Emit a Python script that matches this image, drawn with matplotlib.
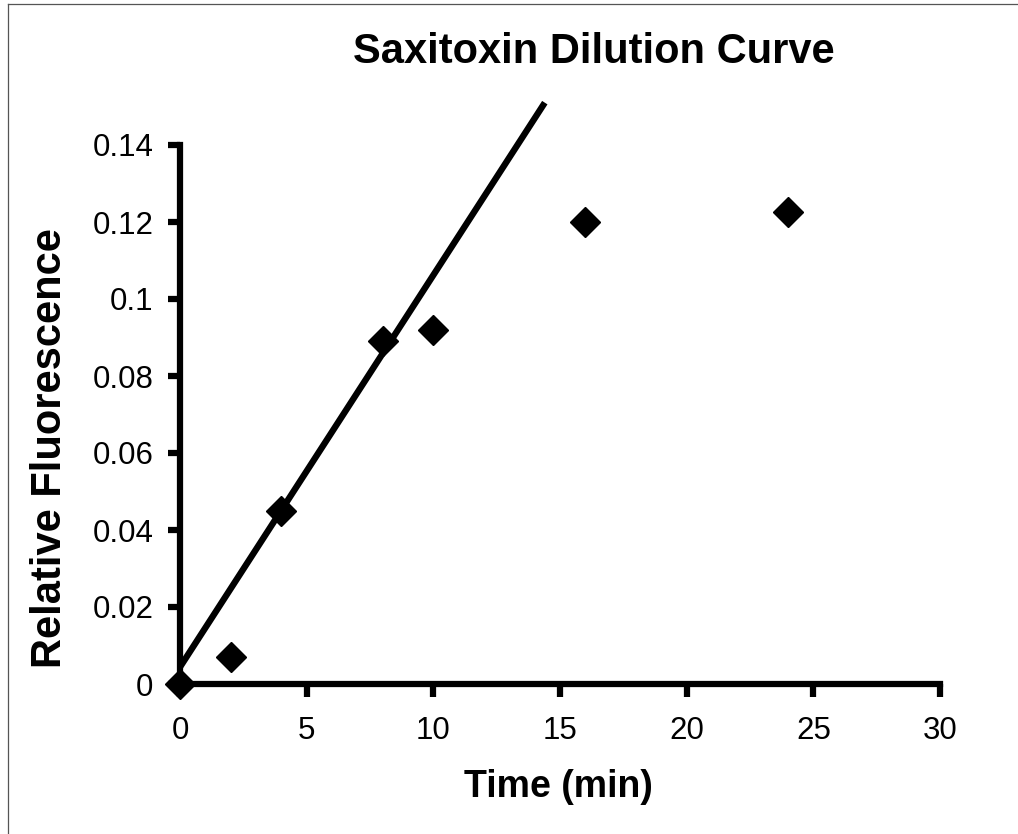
import matplotlib
matplotlib.use("Agg")
import matplotlib.pyplot as plt
from matplotlib.lines import Line2D

# Data
time_min = [0, 2, 4, 8, 10, 16, 24]
rel_fluor = [0.0, 0.007, 0.045, 0.089, 0.092, 0.120, 0.1225]
trend_x = [0.0, 14.4]
trend_y = [0.0044, 0.151]
x_ticks = [0, 5, 10, 15, 20, 25, 30]
y_ticks = [0, 0.02, 0.04, 0.06, 0.08, 0.1, 0.12, 0.14]
y_tick_labels = ["0", "0.02", "0.04", "0.06", "0.08", "0.1", "0.12", "0.14"]

plt.rcParams['font.family'] = ['Liberation Sans', 'DejaVu Sans']

W, H = 1018, 834
fig = plt.figure(figsize=(W / 100, H / 100), dpi=100)
ax = fig.add_axes([180 / W, 1 - 684 / H, (940 - 180) / W, (684 - 145) / H])

ax.plot(trend_x, trend_y, color='black', lw=4.6, solid_capstyle='butt',
        clip_on=False, zorder=3)
ax.plot(time_min, rel_fluor, linestyle='none', marker='D', ms=15.5,
        color='black', mew=1, clip_on=False, zorder=4)

ax.set_xlim(0, 30)
ax.set_ylim(0, 0.14)
ax.set_xticks(x_ticks)
ax.set_xticklabels([str(v) for v in x_ticks])
ax.set_yticks(y_ticks)
ax.set_yticklabels(y_tick_labels)

for s in ['top', 'right']:
    ax.spines[s].set_visible(False)
for s in ['left', 'bottom']:
    ax.spines[s].set_linewidth(4.5)
    ax.spines[s].set_capstyle('projecting')

ax.tick_params(axis='both', direction='out', length=9, width=4.5,
               labelsize=22.5, color='black')
ax.tick_params(axis='x', pad=14)
ax.tick_params(axis='y', pad=10)

fig.text(594 / W, 1 - 63 / H, "Saxitoxin Dilution Curve", ha='center',
         va='baseline', fontsize=30, fontweight='bold')
fig.text(50 / W, 1 - 448 / H, "Relative Fluorescence", ha='center',
         va='center', rotation=90, fontsize=30, fontweight='bold')
fig.text(558 / W, 1 - 797 / H, "Time (min)", ha='center',
         va='baseline', fontsize=27, fontweight='bold')

# thin frame remnants (left and top edges)
fig.add_artist(Line2D([8 / W, 8 / W], [0, 1 - 4 / H], transform=fig.transFigure,
                      color='#555555', lw=0.9))
fig.add_artist(Line2D([8 / W, 1], [1 - 4 / H, 1 - 4 / H], transform=fig.transFigure,
                      color='#555555', lw=0.9))

fig.savefig("out.png", dpi=100, facecolor='white')
